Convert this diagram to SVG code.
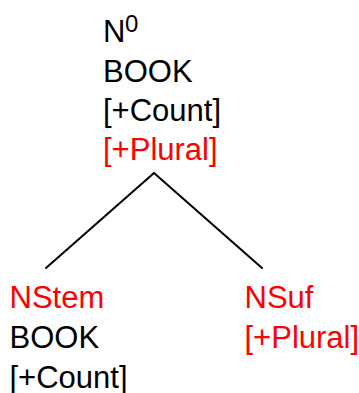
<svg xmlns="http://www.w3.org/2000/svg" width="359" height="393" viewBox="0 0 359 393">
<style>
text{font-family:"Liberation Sans",Arial,sans-serif;font-size:31px;fill:#000}
.r{fill:#ff0000}
.sup{font-size:24px}
line{stroke:#000;stroke-width:2;stroke-linecap:round}
</style>
<rect width="359" height="393" fill="#fff"/>
<g id="root">
<text x="103" y="42">N</text><text class="sup" x="125" y="31.5">0</text>
<text x="103" y="82">BOOK</text>
<text x="103" y="121">[+Count]</text>
<text class="r" x="103" y="160">[+Plural]</text>
</g>
<g id="connectors">
<line x1="154" y1="173" x2="46" y2="268"/>
<line x1="154" y1="173" x2="262" y2="268"/>
</g>
<g id="nstem">
<text class="r" x="9.5" y="307.5">NStem</text>
<text x="9.5" y="348">BOOK</text>
<text x="9.5" y="388">[+Count]</text>
</g>
<g id="nsuf">
<text class="r" x="244.5" y="307.5">NSuf</text>
<text class="r" x="244.5" y="348">[+Plural]</text>
</g>
</svg>
